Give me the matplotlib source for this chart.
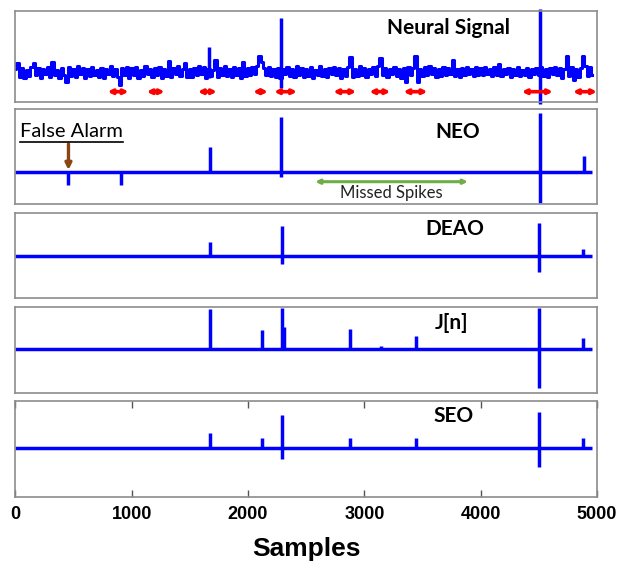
import numpy as np
import matplotlib
matplotlib.use('Agg')
import matplotlib.pyplot as plt
from matplotlib.lines import Line2D

# ---- data (amplitudes relative to each trace's baseline, arbitrary units) ----
noise_step = 20  # samples between noise points
sig_end = 4960

neural_noise = [
    3, 9, -5, 4, -6, 2, -4, 5, 9, -3, 4, -6, 3, -2, 5, -5, 10, -3, 2, -6, 4, -3, -10, 5, -4,
    3, -5, 6, -2, 4, -6, 3, -4, 5, -3, 2, -5, 4, -6, 3, -2, 6, -4, 3, -5, -13, 4, -3, 5, -6,
    4, -3, 5, -6, 2, -4, 6, -2, 3, -5, 4, -3, 5, -6, 3, -4, 11, -5, 4, -2, 6, -4, 3, 9, -5,
    3, -5, 4, -3, 6, -2, 5, -6, 3, -4, 2, 12, -5, 4, -3, 6, -4, 3, -5, 5, -3, 4, -6, 10, -4,
    4, -3, 5, -2, 6, 16, 10, 4, -3, 5, -4, 3, -5, 4, -6, 3, -2, 5, -4, 3, -5, 6, -3, 4, -5,
    3, -4, 5, -6, 2, -3, 6, -4, 3, -5, 4, -2, 5, -3, 4, -6, 3, -4, 5, 15, -5, 3, -4, 6, -3,
    4, -5, 3, -2, 5, -4, 6, 14, -3, 4, -5, 3, -2, 5, -4, 3, -6, 4, -10, 5, -3, 4, 16, -10, 3,
    -4, 5, -3, 6, -2, 4, -5, 3, -4, 5, -3, 4, -2, 12, -4, 3, -5, 4, -3, 5, -2, 3, -4, 5, -3,
    4, -3, 5, -2, 3, -4, 5, -3, 8, -4, 3, -2, 4, -5, 3, -3, 5, -4, 2, -3, 4, -5, 3, -2, 4,
    -3, 5, -4, 3, -5, 4, -2, 5, -3, 4, -6, 3, 16, -4, 5, -8, 3, -5, 4, 16, 6, -4, 5, -3,
]
neural_spk_x = [1664, 2284, 4506]
neural_spk_hi = [25, 54, 63]
neural_spk_lo = [-6, -16, -32]

neo_x = [457, 911, 1672, 2284, 4506, 4885]
neo_hi = [0, 0, 25.6, 55, 59.6, 16.3]
neo_lo = [-12.7, -13.2, 0, -4.7, -31, 0]

deao_x = [1672, 2293, 4500, 4879]
deao_hi = [14, 29.7, 33, 6.4]
deao_lo = [0, -8.3, -16, 0]

jn_x = [1672, 2121, 2293, 2310, 2879, 3147, 3448, 4500, 4879]
jn_hi = [39.7, 19, 40.7, 22, 19.7, 3, 13, 40.7, 11.3]
jn_lo = [0, 0, 0, 0, 0, 0, 0, -39.3, 0]

seo_x = [1672, 2121, 2293, 2879, 3448, 4500, 4879]
seo_hi = [15.6, 10, 33.3, 10, 10, 36.6, 10.6]
seo_lo = [0, 0, -10.7, 0, 0, -19, 0]

spike_ranges = [(793, 974), (1129, 1284), (1569, 1733), (2043, 2172), (2224, 2422),
                (2733, 2931), (3043, 3224), (3336, 3543), (4353, 4621), (4793, 5000)]
missed_range = (2578, 3890)
false_alarm_x = 457

titles = ['Neural Signal', 'NEO', 'DEAO', 'J[n]', 'SEO']
title_pos = [(3724, 44), (3799, 40.3), (3776, 26.4), (3750, 26), (3767, 32.6)]
xticks = [0, 1000, 2000, 3000, 4000, 5000]

# ---- layout (pixel boxes of the five panels) ----
W, H = 629, 565
panel_px = [(10.7, 101.7), (109, 204), (212.7, 298), (307, 392.7), (401, 496.7)]
ylims = [(-29.7, 61.3), (-31.7, 63.3), (-42.3, 43), (-43.7, 42), (-48.4, 47.3)]
left_px, right_px = 15.3, 597

fig = plt.figure(figsize=(W / 100, H / 100), dpi=100)
blue = '#0000ff'
axes = []
for (top, bot), yl in zip(panel_px, ylims):
    ax = fig.add_axes([left_px / W, 1 - bot / H, (right_px - left_px) / W, (bot - top) / H])
    ax.set_xlim(0, 5000)
    ax.set_ylim(*yl)
    for s in ax.spines.values():
        s.set_color('#8c8c8c')
        s.set_linewidth(1.2)
    ax.set_xticks([])
    ax.set_yticks([])
    axes.append(ax)

# neural signal
nx = np.arange(len(neural_noise)) * noise_step
axes[0].plot(nx, neural_noise, color=blue, lw=2.2, drawstyle='steps-mid')
axes[0].vlines(neural_spk_x, neural_spk_lo, neural_spk_hi, color=blue, lw=2.5, clip_on=False)

# detector outputs
for ax, xs, lo, hi in zip(axes[1:], [neo_x, deao_x, jn_x, seo_x],
                          [neo_lo, deao_lo, jn_lo, seo_lo], [neo_hi, deao_hi, jn_hi, seo_hi]):
    ax.plot([0, sig_end], [0, 0], color=blue, lw=2.5, solid_capstyle='butt')
    ax.vlines(xs, lo, hi, color=blue, lw=2.5)

# titles
for ax, t, (tx, ty) in zip(axes, titles, title_pos):
    ax.text(tx, ty, t, ha='center', va='center', fontsize=15, fontweight='bold',
            family='Lato', color='black')

# red spike markers
for a, b in spike_ranges:
    axes[0].annotate('', xy=(b, -19.7), xytext=(a, -19.7),
                     arrowprops=dict(arrowstyle='<|-|>', color='#ff0000', lw=2.6,
                                     mutation_scale=6, shrinkA=0, shrinkB=0),
                     annotation_clip=False)

# false alarm
fa = axes[1].text(40, 40.3, 'False Alarm', ha='left', va='center', fontsize=14.5,
                  family='Lato', color='black')
axes[1].annotate('', xy=(false_alarm_x, 2.3), xytext=(false_alarm_x, 28.3),
                 arrowprops=dict(arrowstyle='-|>', color='#8b4513', lw=2.4,
                                 mutation_scale=9, shrinkA=0, shrinkB=0))

# missed spikes
axes[1].annotate('', xy=(missed_range[1], -9.4), xytext=(missed_range[0], -9.4),
                 arrowprops=dict(arrowstyle='<|-|>', color='#70ad47', lw=2.2,
                                 mutation_scale=6, shrinkA=0, shrinkB=0))
axes[1].text(sum(missed_range) / 2, -20.7, 'Missed Spikes', ha='center', va='center',
             fontsize=12, family='Lato', color='#222222')

# bottom axis
axb = axes[-1]
axb.set_xticks(xticks)
axb.set_xticklabels([str(v) for v in xticks])
axb.tick_params(axis='x', direction='in', top=True, bottom=True, length=5,
                width=1, color='#555555', pad=7)
for lab in axb.get_xticklabels():
    lab.set_fontfamily('Liberation Sans')
    lab.set_fontweight('bold')
    lab.set_fontsize(13)
fig.text(306 / W, 1 - 549 / H, 'Samples', ha='center', va='center', fontsize=19,
         fontweight='bold', family='Liberation Sans')

# underline for "False Alarm"
fig.canvas.draw()
bb = fa.get_window_extent()
y_ul = axes[1].transData.transform((0, 30.6))[1]
inv = fig.transFigure.inverted()
(x0, y0), (x1, _) = inv.transform([(bb.x0, y_ul), (bb.x1, y_ul)])
fig.add_artist(Line2D([x0, x1], [y0, y0], transform=fig.transFigure, color='black', lw=1.2))

fig.savefig('out.png', dpi=100)
